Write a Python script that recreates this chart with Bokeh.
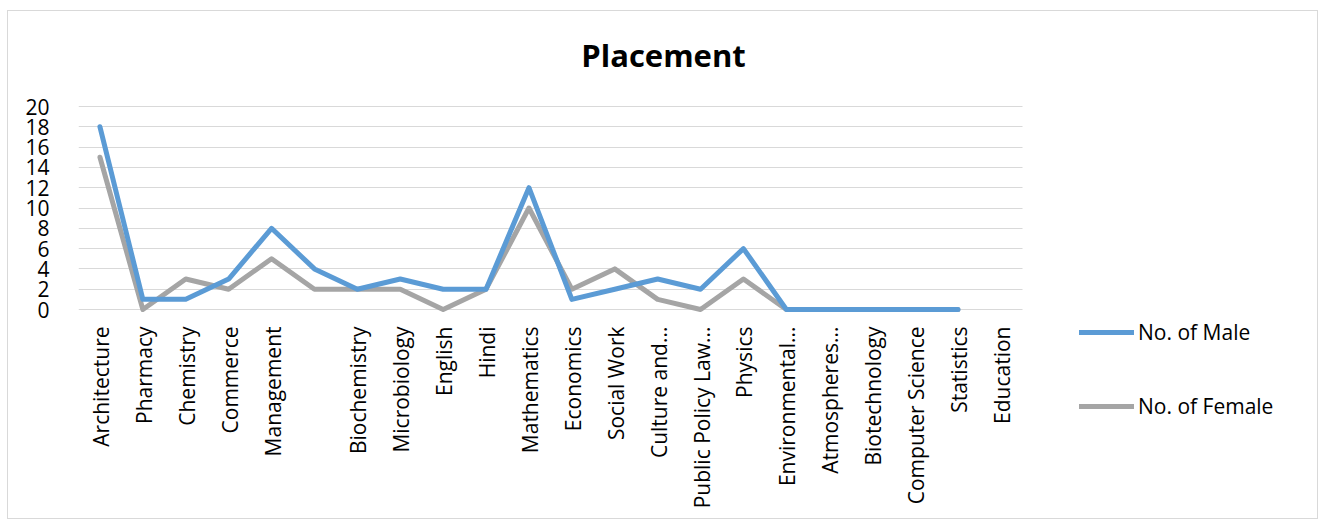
import math
from bokeh.plotting import figure
from bokeh.models import Range1d, Legend, LegendItem, ColumnDataSource, FixedTicker, Label
from bokeh.core.properties import value
from bokeh.embed import file_html
from bokeh.resources import INLINE

categories = ["Architecture", "Pharmacy", "Chemistry", "Commerce", "Management", " ",
              "Biochemistry", "Microbiology", "English", "Hindi", "Mathematics",
              "Economics", "Social Work", "Culture and...", "Public Policy Law...",
              "Physics", "Environmental...", "Atmospheres...", "Biotechnology",
              "Computer Science", "Statistics", "Education"]
male = [18, 1, 1, 3, 8, 4, 2, 3, 2, 2, 12, 1, 2, 3, 2, 6, 0, 0, 0, 0, 0, math.nan]
female = [15, 0, 3, 2, 5, 2, 2, 2, 0, 2, 10, 2, 4, 1, 0, 3, 0, 0, 0, 0, 0, math.nan]
y_ticks = [0, 2, 4, 6, 8, 10, 12, 14, 16, 18, 20]
series_names = ["No. of Male", "No. of Female"]
title_text = "Placement"
colors = ["#5B9BD5", "#A5A5A5"]

FONT = "Open Sans"

# layout geometry (pixels)
FIG_W, FIG_H = 1311, 509
LEFT = 70                 # space for y tick labels
FRAME_W = FIG_W - LEFT
FRAME_H = FIG_H
CAT_PX = 42.9             # pixels per category
UNIT_PX = 10.15           # pixels per y unit
ZERO_FROM_BOTTOM = 211    # pixels from frame bottom to y = 0
ZERO_FROM_TOP = FRAME_H - ZERO_FROM_BOTTOM

n = len(categories)
xs = [i + 0.5 for i in range(n)]

p = figure(width=FIG_W, height=FIG_H, output_backend="svg", toolbar_location=None,
           x_range=Range1d(0, FRAME_W / CAT_PX),
           y_range=Range1d(-ZERO_FROM_BOTTOM / UNIT_PX, ZERO_FROM_TOP / UNIT_PX),
           x_axis_location=None,
           min_border_left=LEFT, min_border_right=0, min_border_top=0, min_border_bottom=0)
p.margin = (10, 0, 0, 7)
p.styles = {"border": "1px solid #d9d9d9"}
p.outline_line_color = None

p.xgrid.grid_line_color = None
p.ygrid.grid_line_color = "#d9d9d9"
p.ygrid.grid_line_width = 1
p.ygrid.ticker = FixedTicker(ticks=y_ticks)
p.ygrid.cross_bounds = (0, n)

p.yaxis.ticker = FixedTicker(ticks=y_ticks)
p.yaxis.axis_line_color = None
p.yaxis.major_tick_line_color = None
p.yaxis.minor_tick_line_color = None
p.yaxis.major_label_text_font = FONT
p.yaxis.major_label_text_font_size = "21px"
p.yaxis.major_label_text_color = "#000000"
p.yaxis.major_label_standoff = 23

# category labels under the baseline
p.text(x=xs, y=[0] * n, text=categories, angle=math.pi / 2,
       text_align="right", text_baseline="middle", y_offset=17, x_offset=1,
       text_font=value(FONT), text_font_size="21px", text_color="#000000")

src = ColumnDataSource(dict(x=xs, male=male, female=female))
r2 = p.line("x", "female", source=src, line_color=colors[1], line_width=5,
            line_join="round", line_cap="round")
r1 = p.line("x", "male", source=src, line_color=colors[0], line_width=5,
            line_join="round", line_cap="round")

title = Label(x=(662 - 7 - LEFT) / CAT_PX, y=(ZERO_FROM_TOP - 43) / UNIT_PX, text=title_text,
              text_align="center", text_baseline="middle",
              text_font=FONT, text_font_size="31px", text_font_style="bold",
              text_color="#000000")
p.add_layout(title)

legend = Legend(items=[LegendItem(label=series_names[0], renderers=[r1]),
                       LegendItem(label=series_names[1], renderers=[r2])],
                location=(1001, 100))
legend.border_line_color = None
legend.background_fill_alpha = 0
legend.padding = 0
legend.margin = 0
legend.glyph_width = 55
legend.glyph_height = 20
legend.label_height = 20
legend.spacing = 46
legend.label_standoff = 4
legend.label_text_font = FONT
legend.label_text_font_size = "21px"
legend.label_text_color = "#000000"
p.add_layout(legend, "center")

open("out.html", "w").write(file_html(p, INLINE))
